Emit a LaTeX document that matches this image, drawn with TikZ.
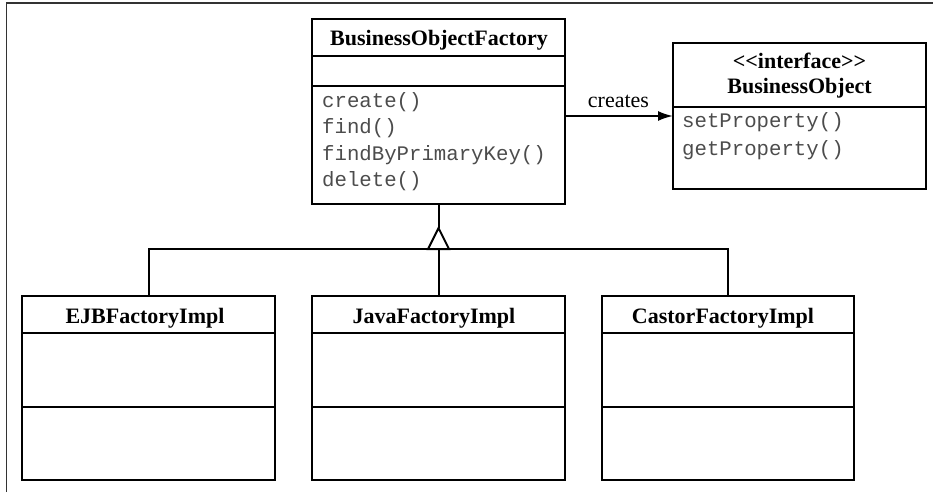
\documentclass[tikz,border=0pt]{standalone}
\usepackage{fontspec}
\setmainfont{Liberation Serif}
\setmonofont{Liberation Mono}
\usetikzlibrary{arrows.meta}
\begin{document}
\begin{tikzpicture}[x=1pt,y=-1pt,
  box/.style={draw, line width=1.7pt, anchor=north west, inner sep=0pt, outer sep=0pt},
  divider/.style={line width=1.7pt},
  nm/.style={font=\fontsize{22}{25}\selectfont\bfseries, inner sep=0pt, anchor=base},
  op/.style={font=\fontsize{20.7}{24}\selectfont\ttfamily, text=black!70, anchor=base west, inner sep=0pt},
  conn/.style={line width=2pt},
  lbl/.style={font=\fontsize{22}{25}\selectfont, inner sep=0pt, anchor=base},
  frame/.style={line width=1.5pt, draw=black!80}]
\useasboundingbox (0,0) rectangle (933,492);
\draw[frame] (6.5,492) -- (6.5,3) -- (933,3);

% BusinessObjectFactory
\node[box, minimum width=253pt, minimum height=185pt] (bof) at (312,19) {};
\draw[divider] (312,56) -- (565,56);
\draw[divider] (312,86) -- (565,86);
\node[nm] (bofn) at (439,46) {BusinessObjectFactory};
\node[op] (m1) at (322,107) {create()};
\node[op] (m2) at (322,133.5) {find()};
\node[op] (m3) at (322,160) {findByPrimaryKey()};
\node[op] (m4) at (322,186.5) {delete()};

% BusinessObject
\node[box, minimum width=253pt, minimum height=146pt] (bo) at (673,43) {};
\draw[divider] (673,107) -- (926,107);
\node[nm] (bon1) at (799.5,69) {<\kern0pt<interface>\kern0pt>};
\node[nm] (bon2) at (799.5,94) {BusinessObject};
\node[op] (p1) at (682,128) {setProperty()};
\node[op] (p2) at (682,155.5) {getProperty()};

% creates association
\coordinate (cs) at (565,116);
\coordinate (ce) at (673,116);
\draw[conn, -{Latex[length=15pt,width=10pt]}] (cs) -- (ce);
\node[lbl] (cl) at (618.5,108) {creates};

% subclasses
\node[box, minimum width=253pt, minimum height=184pt] (ejb) at (22,296) {};
\draw[divider] (22,333) -- (275,333);
\draw[divider] (22,407) -- (275,407);
\node[nm] (ejbn) at (145,323) {EJBFactoryImpl};

\node[box, minimum width=253pt, minimum height=184pt] (java) at (312,296) {};
\draw[divider] (312,333) -- (565,333);
\draw[divider] (312,407) -- (565,407);
\node[nm] (javan) at (434,323) {JavaFactoryImpl};

\node[box, minimum width=252pt, minimum height=184pt] (castor) at (602,296) {};
\draw[divider] (602,333) -- (854,333);
\draw[divider] (602,407) -- (854,407);
\node[nm] (castorn) at (723,323) {CastorFactoryImpl};

% generalization
\coordinate (apex) at (438.5,228);
\coordinate (bl) at (428,249);
\coordinate (br) at (449,249);
\coordinate (mid) at (438.5,249);
\draw[conn] (bof.south -| apex) -- (apex);
\draw[conn, line join=miter, fill=white] (apex) -- (br) -- (bl) -- cycle;
\draw[conn] (ejb.north -| 148.5,0) -- (148.5,249) -- (728,249) -- (castor.north -| 728,0);
\draw[conn] (mid) -- (java.north);
\end{tikzpicture}
\end{document}
